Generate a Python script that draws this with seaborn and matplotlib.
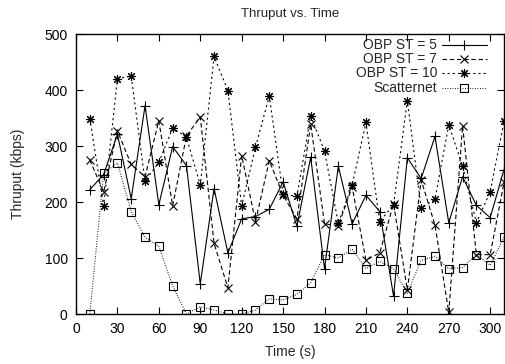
import matplotlib
matplotlib.use("Agg")
import matplotlib.pyplot as plt
import seaborn as sns
import pandas as pd

time_s = [10, 20, 30, 40, 50, 60, 70, 80, 90, 100, 110, 120, 130, 140, 150, 160,
          170, 180, 190, 200, 210, 220, 230, 240, 250, 260, 270, 280, 290, 300, 310]
obp_st5 = [222, 249, 321, 206, 372, 195, 299, 265, 54, 224, 109, 170, 174, 187, 236, 157,
           280, 81, 264, 161, 212, 183, 32, 279, 242, 317, 163, 245, 194, 172, 258]
obp_st7 = [275, 218, 327, 267, 245, 345, 193, 318, 352, 126, 47, 283, 165, 274, 212, 170,
           339, 161, 158, 227, 96, 109, 197, 43, 239, 159, 3, 336, 106, 106, 235]
obp_st10 = [349, 193, 420, 425, 237, 271, 332, 316, 230, 460, 399, 193, 298, 389, 214, 210,
            354, 291, 162, 230, 342, 165, 195, 381, 189, 205, 338, 264, 163, 218, 344]
scatternet = [0, 251, 270, 183, 137, 121, 50, 0, 13, 7, 0, 0, 7, 27, 25, 35,
              56, 106, 100, 116, 81, 94, 81, 37, 96, 103, 81, 83, 106, 87, 137]
labels = ["OBP ST = 5", "OBP ST = 7", "OBP ST = 10", "Scatternet"]
x_ticks = [0, 30, 60, 90, 120, 150, 180, 210, 240, 270, 300]
y_ticks = [0, 100, 200, 300, 400, 500]

sns.set_style("ticks")
plt.rcParams["font.family"] = ["Liberation Sans", "DejaVu Sans"]
plt.rcParams["lines.scale_dashes"] = False

df = pd.DataFrame({"t": time_s, "s5": obp_st5, "s7": obp_st7, "s10": obp_st10, "sc": scatternet})

fig = plt.figure(figsize=(5.05, 3.64), dpi=100)
ax = fig.add_axes([76 / 505, 1 - 314 / 364, 428 / 505, 280 / 364])

styles = [
    dict(col="s5", marker="+", ms=7, dashes=None),
    dict(col="s7", marker="x", ms=5.5, dashes=(3.2, 2.0)),
    dict(col="s10", marker=(8, 2, 0), ms=6.5, dashes=(1.5, 2.2)),
    dict(col="sc", marker="s", ms=5.5, dashes=(0.6, 1.2)),
]
lw = 0.8
for st, lab in zip(styles, labels):
    n_before = len(ax.lines)
    sns.lineplot(data=df, x="t", y=st["col"], ax=ax, color="black", lw=lw,
                 marker=st["marker"], markersize=st["ms"], markeredgecolor="black",
                 markerfacecolor="none", markeredgewidth=0.8, errorbar=None, sort=False,
                 legend=False)
    line = ax.lines[n_before]
    if st["dashes"] is not None:
        line.set_dashes(st["dashes"])

# gnuplot-style legend: right aligned text, sample to the right
rows_y = [0.9607, 0.9107, 0.8607, 0.807]
for st, lab, yy in zip(styles, labels, rows_y):
    ax.text(0.8435, yy, lab, transform=ax.transAxes, ha="right", va="center", fontsize=10)
    ln, = ax.plot([0.855, 0.960], [yy, yy], transform=ax.transAxes, color="black", lw=lw,
                  clip_on=False)
    if st["dashes"] is not None:
        ln.set_dashes(st["dashes"])
    ax.plot([0.9075], [yy], transform=ax.transAxes, marker=st["marker"], ms=st["ms"],
            mec="black", mfc="none", mew=0.8, color="black", clip_on=False)

ax.set_xlim(0, 310)
ax.set_ylim(0, 500)
ax.set_xticks(x_ticks)
ax.set_yticks(y_ticks)
ax.tick_params(direction="in", length=5, width=0.8, top=True, right=True,
               labelsize=10, pad=6, colors="black")
for sp in ax.spines.values():
    sp.set_visible(True)
    sp.set_linewidth(1.0)
    sp.set_color("black")
ax.set_xlabel("Time (s)", fontsize=10, labelpad=6)
ax.set_ylabel("Thruput (kbps)", fontsize=10, labelpad=14)
ax.set_title("Thruput vs. Time", fontsize=9.5, pad=12)

fig.savefig("out.png", dpi=100)
